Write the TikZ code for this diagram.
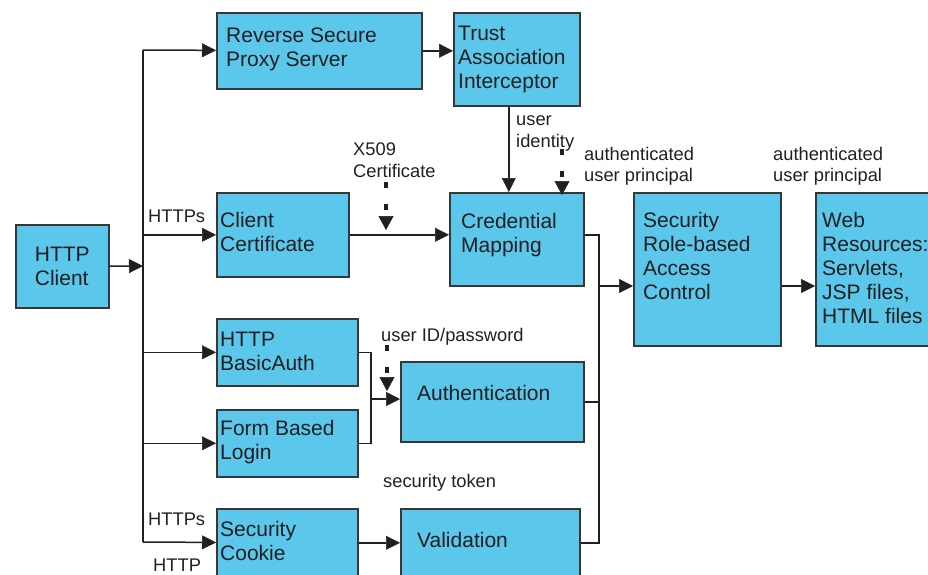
\documentclass[tikz,border=0pt]{standalone}
\usepackage{fontspec}
\setmainfont{Liberation Sans}
\usetikzlibrary{arrows.meta}
\definecolor{box-blue}{RGB}{90,199,235}
\definecolor{box-line}{RGB}{55,55,55}
\definecolor{wire}{RGB}{35,31,32}

\begin{document}
\begin{tikzpicture}[x=1pt,y=-1pt]
	\tikzset{blk/.style={rectangle, draw=box-line, fill=box-blue, line width=1.6pt, inner sep=0pt, anchor=north west}}
	\tikzset{txt/.style={font=\fontsize{21}{24}\selectfont, text=wire, align=left, inner sep=0pt, anchor=base west}}
	\tikzset{lbl/.style={font=\fontsize{18.3}{21.5}\selectfont, text=wire, align=left, inner sep=0pt, anchor=base west}}
	\tikzset{arr/.style={-{Triangle[length=14pt, width=14pt, line width=0.5pt]}, draw=wire, line width=1.5pt}}
	\tikzset{wirex/.style={draw=wire, line width=1.5pt}}
	\tikzset{dasharr/.style={-{Triangle[length=14pt, width=15pt, line width=0.5pt]}, draw=wire, line width=3.5pt, dash pattern=on 6pt off 16pt}}
	
	\useasboundingbox (0,0) rectangle (928,574);
	
	% boxes
	\node[blk, minimum width=93pt, minimum height=83pt, font=\fontsize{21}{24}\selectfont, text=wire, align=left] (client) at (15,224) {HTTP\\Client};
	\node[blk, minimum width=205pt, minimum height=76pt] (rsps) at (216,12) {};
	\node[blk, minimum width=126pt, minimum height=93pt] (tai) at (453,12) {};
	\node[blk, minimum width=132pt, minimum height=84pt] (cert) at (216,192) {};
	\node[blk, minimum width=134pt, minimum height=93pt] (cred) at (449,192) {};
	\node[blk, minimum width=147pt, minimum height=153pt] (acl) at (633,192) {};
	\node[blk, minimum width=125pt, minimum height=153pt] (web) at (815,192) {};
	\node[blk, minimum width=141pt, minimum height=67pt] (basic) at (216,318) {};
	\node[blk, minimum width=141pt, minimum height=67pt] (form) at (216,409) {};
	\node[blk, minimum width=183pt, minimum height=80pt] (auth) at (400,361) {};
	\node[blk, minimum width=141pt, minimum height=68pt] (cookie) at (216,508) {};
	\node[blk, minimum width=179pt, minimum height=68pt] (val) at (400,508) {};
	
	% box texts (placed at the baseline of the last line)
	\node[txt] (rsps text) at (226,66) {Reverse Secure\\Proxy Server};
	\node[txt] (tai text) at (458,88) {Trust\\Association\\Interceptor};
	\node[txt] (cert text) at (220,251) {Client\\Certificate};
	\node[txt] (cred text) at (461,252) {Credential\\Mapping};
	\node[txt] (acl text) at (643,299) {Security\\Role-based\\Access\\Control};
	\node[txt] (web text) at (822,323) {Web\\Resources:\\Servlets,\\JSP files,\\HTML files};
	\node[txt] (basic text) at (220,370) {HTTP\\BasicAuth};
	\node[txt] (form text) at (220,459) {Form Based\\Login};
	\node[txt] (auth text) at (417,400) {Authentication};
	\node[txt] (cookie text) at (220,560) {Security\\Cookie};
	\node[txt] (val text) at (417,547) {Validation};
	
	% labels
	\node[lbl] (https top) at (148,222) {HTTPs};
	\node[lbl] (x509) at (353,177) {X509\\Certificate};
	\node[lbl] (user id) at (516,147) {user\\identity};
	\node[lbl] (principal a) at (584,181.5) {authenticated\\user principal};
	\node[lbl] (principal b) at (773,181.5) {authenticated\\user principal};
	\node[lbl] (password) at (381,341) {user ID/password};
	\node[lbl] (token) at (383,487) {security token};
	\node[lbl] (https low) at (148,525) {HTTPs};
	\node[lbl] (http low) at (153,571) {HTTP};
	
	% bus from the client
	\coordinate (bus) at (143,266);
	\coordinate (bus top) at (143,50);
	\coordinate (bus end) at (143,542);
	\draw[arr] (client) -- (bus);
	\draw[wirex] (bus top) -- (bus end);
	\draw[arr] (bus top) -- (rsps);
	\draw[arr] (bus |- cert) -- (cert);
	\draw[arr] (bus |- basic) -- (basic);
	\draw[arr] (bus |- form) -- (form);
	\draw[arr] (bus end) -- (cookie);
	
	% middle column
	\draw[arr] (rsps) -- (rsps -| tai.west);
	\draw[arr] ([xshift=-8pt]tai.south) -- ([xshift=-8pt]tai.south |- cred.north);
	\draw[arr] (cert) -- (cert -| cred.west);
	\coordinate (join) at (371,399);
	\draw[wirex] (basic.east) -| (join) |- (form.east);
	\draw[arr] (join) -- (join -| auth.west);
	\draw[arr] (cookie) -- (val);
	
	% merge to access control
	\coordinate (merge) at (599,286);
	\draw[wirex] (cred.east |- cert) -| (merge |- val.east) -- (val.east);
	\draw[wirex] (auth.east) -- (auth.east -| merge);
	\draw[arr] (merge) -- (merge -| acl.west);
	\draw[arr] (acl.east |- merge) -- (web.west |- merge);
	
	% dashed inputs
	\coordinate (x509 start) at (386,182);
	\coordinate (x509 tip) at (386,230);
	\draw[dasharr] (x509 start) -- (x509 tip);
	\coordinate (principal start) at (562,149);
	\coordinate (principal tip) at (562,195);
	\draw[dasharr] (principal start) -- (principal tip);
	\coordinate (password start) at (387,345);
	\coordinate (password tip) at (387,391);
	\draw[dasharr] (password start) -- (password tip);
\end{tikzpicture}
\end{document}
